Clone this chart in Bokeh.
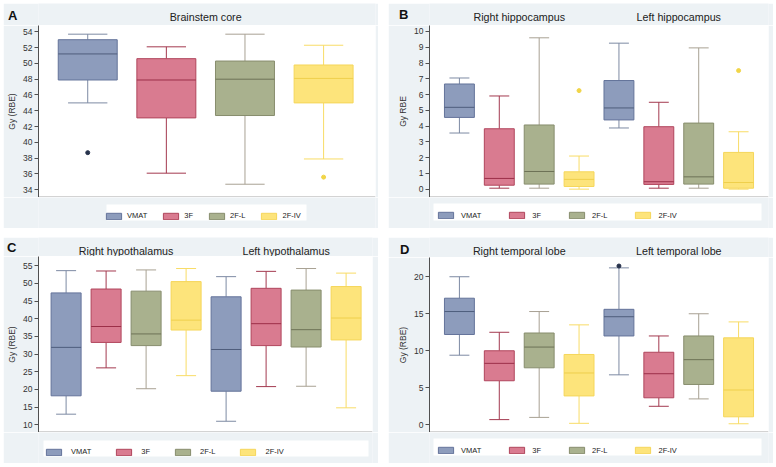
from bokeh.plotting import figure
from bokeh.models import (ColumnDataSource, Legend, LegendItem, Label, BoxAnnotation,
                          FixedTicker, Range1d, Span)
from bokeh.layouts import row, column
from bokeh.embed import file_html
from bokeh.resources import INLINE

# ---------------- data ----------------
modalities = ["VMAT", "3F", "2F-L", "2F-IV"]

# Panel A: Brainstem core (one group of 4 boxes)
a_titles = ["Brainstem core"]
a_low = [45.0, 36.1, 34.7, 37.9]
a_q1 = [47.9, 43.1, 43.4, 45.0]
a_median = [51.2, 47.9, 48.0, 48.1]
a_q3 = [53.0, 50.6, 50.3, 49.8]
a_high = [53.7, 52.1, 53.7, 52.3]
a_out_box = [1, 4]
a_out_val = [38.7, 35.6]
a_ticks = [34, 36, 38, 40, 42, 44, 46, 48, 50, 52, 54]

# Panel B: hippocampus (right 4 boxes, then left 4 boxes)
b_titles = ["Right hippocampus", "Left hippocampus"]
b_low = [3.56, 0.06, 0.06, 0.0, 3.88, 0.06, 0.06, 0.0]
b_q1 = [4.55, 0.25, 0.32, 0.17, 4.39, 0.30, 0.32, 0.06]
b_median = [5.19, 0.68, 1.12, 0.62, 5.15, 0.47, 0.78, 0.42]
b_q3 = [6.67, 3.83, 4.07, 1.10, 6.89, 3.96, 4.19, 2.33]
b_high = [7.05, 5.91, 9.60, 2.10, 9.26, 5.51, 8.96, 3.64]
b_out_box = [4, 8]
b_out_val = [6.25, 7.52]
b_ticks = [0, 1, 2, 3, 4, 5, 6, 7, 8, 9, 10]

# Panel C: hypothalamus
c_titles = ["Right hypothalamus", "Left hypothalamus"]
c_low = [13.0, 26.1, 20.2, 23.9, 11.0, 20.8, 20.9, 14.8]
c_q1 = [18.2, 33.3, 32.4, 36.8, 19.5, 32.4, 32.0, 34.0]
c_median = [31.9, 37.8, 35.7, 39.6, 31.3, 38.6, 36.9, 40.2]
c_q3 = [47.3, 48.4, 47.8, 50.5, 46.2, 48.6, 48.1, 49.1]
c_high = [53.6, 53.5, 53.8, 54.2, 51.9, 53.4, 54.2, 52.9]
c_out_box = []
c_out_val = []
c_ticks = [10, 15, 20, 25, 30, 35, 40, 45, 50, 55]

# Panel D: temporal lobe
d_titles = ["Right temporal lobe", "Left temporal lobe"]
d_low = [9.4, 0.7, 1.0, 0.2, 6.75, 2.5, 3.5, 0.14]
d_q1 = [12.2, 5.95, 7.7, 3.9, 12.0, 3.65, 5.45, 1.08]
d_median = [15.3, 8.3, 10.5, 7.0, 14.6, 6.9, 8.8, 4.7]
d_q3 = [17.1, 10.0, 12.4, 9.5, 15.6, 9.8, 12.0, 11.75]
d_high = [20.0, 12.5, 15.3, 13.5, 21.2, 12.0, 15.0, 13.9]
d_out_box = [5]
d_out_val = [21.45]
d_ticks = [0, 5, 10, 15, 20]

# ---------------- style ----------------
FONT = "Liberation Sans"
PANEL_BG = "#edf2f5"
fills = ["#8d9cbc", "#d97b90", "#a9b18e", "#fde47b"]
edges = ["#64739a", "#b0455c", "#878d6d", "#f5d65a"]
medians = ["#4e5d7c", "#9c2f48", "#6d7256", "#efcf4c"]
whisk = ["#7d8aa3", "#a3394f", "#a8a193", "#f8dc66"]
outc = ["#27324c", "#a3394f", "#6d7256", "#f1d548"]
BOX_W = 0.75
CAP_W = 0.5


def strip_fig(w, h, x_range, yr, mbl, mbr, with_axis=False):
    f = figure(width=w, height=h, output_backend="svg", toolbar_location=None, title=None,
               x_range=x_range, y_range=Range1d(*yr),
               x_axis_location=None, y_axis_location=("left" if with_axis else None),
               min_border_left=mbl, min_border_right=mbr, min_border_top=0, min_border_bottom=0)
    f.border_fill_color = PANEL_BG
    f.background_fill_color = PANEL_BG
    f.outline_line_color = None
    f.grid.visible = False
    return f


def make_panel(letter, titles, low, q1, med, q3, high, out_box, out_val, ticks, ylabel,
               geom, xr, yr, legend_swatch_px, legend_spacing, legend_standoff, legend_box_px,
               title_py, letter_px, margin):
    # geom: panel left, panel top, panel width, panel height, frame left/right/top/bottom (abs px)
    pl, pt, w, h, fl, fr, ft, fb = geom
    mbl = fl - pl
    mbr = pl + w - fr
    k = (xr[1] - xr[0]) / (fr - fl)
    x_range = Range1d(*xr)

    def px2x(px):
        return xr[0] + (px - fl) * k

    # ---- header with panel letter and titles ----
    hh = ft - pt
    hdr = strip_fig(w, hh, x_range, (0, hh), mbl, mbr, with_axis=True)
    for j, t in enumerate(titles):
        hdr.add_layout(Label(x=4 * j + 2.5, y=hh - (title_py - pt), text=t, text_align="center",
                             text_baseline="middle", text_font=FONT, text_font_size="10.7px",
                             text_color="#222222"))
    lt = int(round(hh - (letter_px[1] - pt)))
    hax = hdr.yaxis[0]
    hax.ticker = FixedTicker(ticks=[lt])
    hax.major_label_overrides = {lt: letter}
    hax.axis_line_color = None
    hax.major_tick_line_color = None
    hax.minor_tick_line_color = None
    hax.major_tick_out = 0
    hax.major_tick_in = 0
    hax.major_label_standoff = fl - letter_px[0]
    hax.major_label_text_font = FONT
    hax.major_label_text_font_size = "13px"
    hax.major_label_text_font_style = "bold"
    hax.major_label_text_color = "#111111"

    # ---- main plot ----
    mh = fb - ft
    p = figure(width=w, height=mh, output_backend="svg", toolbar_location=None, title=None,
               x_range=x_range, y_range=Range1d(*yr), x_axis_location=None,
               min_border_left=mbl, min_border_right=mbr, min_border_top=0, min_border_bottom=0)
    p.border_fill_color = PANEL_BG
    p.background_fill_color = "white"
    p.outline_line_color = None
    p.grid.visible = False

    ax = p.yaxis[0]
    ax.ticker = FixedTicker(ticks=ticks)
    ax.minor_tick_line_color = None
    ax.major_tick_in = 0
    ax.major_tick_out = 4
    ax.axis_line_color = "#505050"
    ax.major_tick_line_color = "#505050"
    ax.major_label_text_font = FONT
    ax.major_label_text_font_size = "8.5px"
    ax.major_label_text_color = "#333333"
    ax.major_label_standoff = 2
    ax.axis_label = ylabel
    ax.axis_label_text_font = FONT
    ax.axis_label_text_font_size = "8.5px"
    ax.axis_label_text_font_style = "normal"
    ax.axis_label_text_color = "#333333"
    ax.axis_label_standoff = 3

    p.add_layout(Span(location=yr[0], dimension="width", line_color="#505050", line_width=1.3))

    # ---- legend strip ----
    lh = pt + h - fb
    lg = strip_fig(w, lh, x_range, (0, lh), mbl, mbr)
    bl, br, bt, bb = legend_box_px
    lg.add_layout(BoxAnnotation(left=px2x(bl), right=px2x(br), top=lh - (bt - fb), bottom=lh - (bb - fb),
                                fill_color="white", fill_alpha=1.0, line_color=None, level="underlay"))

    n = len(low)
    swatches = []
    for m in range(4):
        idx = [i for i in range(n) if i % 4 == m]
        xs = [i + 1 for i in idx]
        src = ColumnDataSource(dict(
            x=xs,
            xl=[x - BOX_W / 2 for x in xs], xr=[x + BOX_W / 2 for x in xs],
            cl=[x - CAP_W / 2 for x in xs], cr=[x + CAP_W / 2 for x in xs],
            low=[low[i] for i in idx], q1=[q1[i] for i in idx], med=[med[i] for i in idx],
            q3=[q3[i] for i in idx], high=[high[i] for i in idx]))
        p.segment(x0="x", y0="q3", x1="x", y1="high", source=src, line_color=whisk[m], line_width=1)
        p.segment(x0="x", y0="low", x1="x", y1="q1", source=src, line_color=whisk[m], line_width=1)
        p.segment(x0="cl", y0="high", x1="cr", y1="high", source=src, line_color=whisk[m], line_width=1)
        p.segment(x0="cl", y0="low", x1="cr", y1="low", source=src, line_color=whisk[m], line_width=1)
        p.vbar(x="x", width=BOX_W, bottom="q1", top="q3", source=src,
               fill_color=fills[m], line_color=edges[m], line_width=1)
        p.segment(x0="xl", y0="med", x1="xr", y1="med", source=src, line_color=medians[m], line_width=1)
        ox = [b for b in out_box if (b - 1) % 4 == m]
        oy = [v for b, v in zip(out_box, out_val) if (b - 1) % 4 == m]
        if ox:
            p.scatter(x=ox, y=oy, size=4, marker="circle", fill_color=outc[m], line_color=outc[m])
        # legend swatch renderer (same data, hidden in the strip)
        sw = lg.vbar(x="x", width=BOX_W, bottom="q1", top="q3", source=src,
                     fill_color=fills[m], line_color=edges[m], line_width=1, visible=False)
        swatches.append(sw)

    pad = 4
    leg_h = 8 + 2 * pad
    legend = Legend(items=[LegendItem(label=modalities[m], renderers=[swatches[m]]) for m in range(4)],
                    orientation="horizontal",
                    location=(legend_swatch_px - pad - fl, lh - (bt - fb) - (bb - bt + leg_h) / 2),
                    label_text_font=FONT, label_text_font_size="7.5px", label_text_color="#222222",
                    glyph_width=19, glyph_height=8, label_height=8, label_width=0,
                    label_standoff=legend_standoff,
                    spacing=legend_spacing, padding=pad, margin=0,
                    inactive_fill_alpha=0,
                    background_fill_alpha=0, border_line_color=None)
    lg.add_layout(legend)

    return column(hdr, p, lg, margin=margin)


pA = make_panel("A", a_titles, a_low, a_q1, a_median, a_q3, a_high, a_out_box, a_out_val, a_ticks,
                "Gy (RBE)", (3, 3, 375, 225, 38, 375, 25, 197), (0.374, 4.66), (33.02, 54.8),
                108, 14, 4, (106, 306, 204, 220), 16, (17, 15), (3, 0, 0, 3))
pB = make_panel("B", b_titles, b_low, b_q1, b_median, b_q3, b_high, b_out_box, b_out_val, b_ticks,
                "Gy RBE", (388, 3, 385, 225, 429, 768, 25, 197), (0.25, 8.75), (-0.53, 10.38),
                440, 26, 6, (433, 761, 203, 220), 16, (408, 14), (3, 0, 0, 10))
pC = make_panel("C", c_titles, c_low, c_q1, c_median, c_q3, c_high, c_out_box, c_out_val, c_ticks,
                "Gy (RBE)", (3, 237, 375, 226, 38, 372, 256, 432), (0.31, 8.66), (7.82, 57.6),
                48, 23, 8, (43, 368, 440, 456), 250, (16, 247), (9, 0, 0, 3))
pD = make_panel("D", d_titles, d_low, d_q1, d_median, d_q3, d_high, d_out_box, d_out_val, d_ticks,
                "Gy (RBE)", (388, 237, 385, 226, 429, 768, 257, 432), (0.25, 8.75), (-1.04, 22.6),
                440, 26, 6, (433, 761, 438, 455), 250, (409, 249), (9, 0, 0, 10))

layout = column(row(pA, pB), row(pC, pD))
layout.margin = 0

open("out.html", "w").write(file_html(layout, INLINE))
